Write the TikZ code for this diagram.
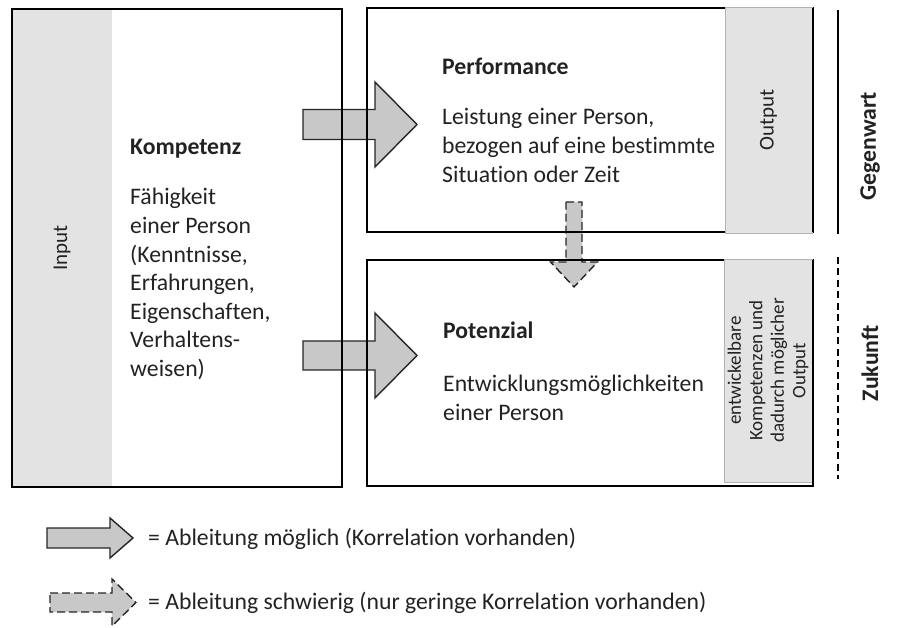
\documentclass[tikz,border=0pt]{standalone}
\usepackage{fontspec}
\setmainfont{Carlito}[Ligatures=NoCommon]
\definecolor{txt}{HTML}{222222}
\definecolor{stripgray}{HTML}{E3E3E3}
\definecolor{arrowgray}{HTML}{C8C8C8}
\begin{document}
\begin{tikzpicture}[x=1pt,y=-1pt,
  box/.style={draw=black, line width=1.8pt, rectangle, inner sep=0pt, outer sep=0pt},
  strip/.style={fill=stripgray, rectangle, inner sep=0pt, outer sep=0pt, text=txt, rotate=90},
  sidelabel/.style={font=\fontsize{21}{25}\selectfont},
  smalllabel/.style={font=\fontsize{19}{21.5}\selectfont, align=center},
  title/.style={anchor=base west, font=\fontsize{23.7}{28.6}\selectfont\bfseries, text=txt, inner sep=0pt},
  body/.style={anchor=base west, font=\fontsize{23.7}{28.6}\selectfont, text=txt, inner sep=0pt, text width=#1, align=flush left},
  timelabel/.style={font=\fontsize{23.7}{28.6}\selectfont\bfseries, text=txt, rotate=90, inner sep=0pt},
  solidarrow/.style={fill=arrowgray, draw=black!85, line width=1.4pt, line join=miter},
  dasharrow/.style={fill=arrowgray, draw=black!85, line width=1.4pt, dash pattern=on 8pt off 4pt},
  legend/.style={anchor=base west, font=\fontsize{23.7}{28.6}\selectfont, text=txt, inner sep=0pt}
]
\useasboundingbox (0,0) rectangle (914,628);

% input strip
\node[strip, sidelabel, minimum width=478, minimum height=100] (input) at (62,248) {Input};

% arrows
\draw[solidarrow] (303,109.5) -- (375,109.5) -- (375,82) -- (417,124.5) -- (375,167) -- (375,139.5) -- (303,139.5) -- cycle;
\draw[solidarrow] (303,341) -- (375,341) -- (375,313) -- (417,355.5) -- (375,398) -- (375,370) -- (303,370) -- cycle;
\draw[dasharrow] (566,202) -- (582,202) -- (582,262) -- (597.5,262) -- (574,287) -- (550.5,262) -- (566,262) -- cycle;

% boxes
\node[box, minimum width=330, minimum height=478] (komp) at (177,248) {};
\node[box, minimum width=446, minimum height=224] (perf) at (590,120) {};
\node[box, minimum width=446, minimum height=226] (pot) at (590,373) {};

% output strips
\node[strip, sidelabel, draw=black!30, line width=0.5pt, minimum width=226, minimum height=87] (output) at (768.5,120) {Output};
\node[strip, smalllabel, draw=black!30, line width=0.5pt, minimum width=223, minimum height=88] (futout) at (768,370.5) {entwickelbare\\Kompetenzen und\\dadurch möglicher\\Output};
\draw[line width=1.8pt] (perf.north east) -- (perf.south east);
\draw[line width=1.8pt] (pot.north east) -- (pot.south east);

% texts
\node[title] (kt) at (130,155) {Kompetenz};
\node[body=200] (kb) at (130,205) {Fähigkeit\\einer Person\\(Kenntnisse,\\Erfahrungen,\\Eigenschaften,\\Verhaltens-\\weisen)};
\node[title] (pt) at (442,75) {Performance};
\node[body=330] (pb) at (442,125) {Leistung einer Person,\\bezogen auf eine bestimmte\\Situation oder Zeit};
\node[title] (pot_t) at (443,339) {Potenzial};
\node[body=330] (pot_b) at (443,392) {Entwicklungsmöglichkeiten\\einer Person};

% time axis
\coordinate (g1) at (838,10);
\coordinate (g2) at (838,234);
\coordinate (z1) at (838,257);
\coordinate (z2) at (838,479);
\draw[line width=1.8pt] (g1) -- (g2);
\draw[line width=1.8pt, dash pattern=on 7pt off 4.5pt] (z1) -- (z2);
\node[timelabel] (gegen) at (870,146) {Gegenwart};
\node[timelabel] (zuk) at (870,363) {Zukunft};

% legend
\draw[solidarrow] (47,528) -- (110,528) -- (110,518) -- (133,538) -- (110,558) -- (110,548) -- (47,548) -- cycle;
\draw[dasharrow] (50,593) -- (112,593) -- (112,579) -- (136,602.5) -- (112,626) -- (112,612) -- (50,612) -- cycle;
\node[legend] (l1) at (148,545) {= Ableitung möglich (Korrelation vorhanden)};
\node[legend] (l2) at (148,609) {= Ableitung schwierig (nur geringe Korrelation vorhanden)};
\end{tikzpicture}
\end{document}
